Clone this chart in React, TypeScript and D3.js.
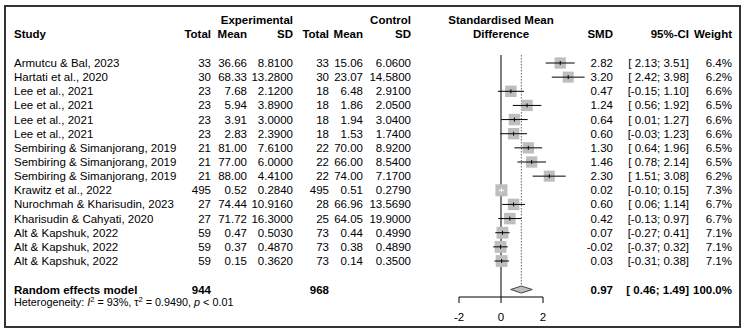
import { useRef, useEffect } from 'react';
import * as d3 from 'd3';

const studies = [
  'Armutcu & Bal, 2023', 'Hartati et al., 2020', 'Lee et al., 2021', 'Lee et al., 2021',
  'Lee et al., 2021', 'Lee et al., 2021', 'Sembiring & Simanjorang, 2019',
  'Sembiring & Simanjorang, 2019', 'Sembiring & Simanjorang, 2019', 'Krawitz et al., 2022',
  'Nurochmah & Kharisudin, 2023', 'Kharisudin & Cahyati, 2020', 'Alt & Kapshuk, 2022',
  'Alt & Kapshuk, 2022', 'Alt & Kapshuk, 2022'
];
const expTotal = [33, 30, 23, 23, 23, 23, 21, 21, 21, 495, 27, 27, 59, 59, 59];
const expMean = ['36.66', '68.33', '7.68', '5.94', '3.91', '2.83', '81.00', '77.00', '88.00', '0.52', '74.44', '71.72', '0.47', '0.37', '0.15'];
const expSD = ['8.8100', '13.2800', '2.1200', '3.8900', '3.0000', '2.3900', '7.6100', '6.0000', '4.4100', '0.2840', '10.9160', '16.3000', '0.5030', '0.4870', '0.3620'];
const ctlTotal = [33, 30, 18, 18, 18, 18, 22, 22, 22, 495, 28, 25, 73, 73, 73];
const ctlMean = ['15.06', '23.07', '6.48', '1.86', '1.94', '1.53', '70.00', '66.00', '74.00', '0.51', '66.96', '64.05', '0.44', '0.38', '0.14'];
const ctlSD = ['6.0600', '14.5800', '2.9100', '2.0500', '3.0400', '1.7400', '8.9200', '8.5400', '7.1700', '0.2790', '13.5690', '19.9000', '0.4990', '0.4890', '0.3500'];
const smd = [2.82, 3.20, 0.47, 1.24, 0.64, 0.60, 1.30, 1.46, 2.30, 0.02, 0.60, 0.42, 0.07, -0.02, 0.03];
const lower = [2.13, 2.42, -0.15, 0.56, 0.01, -0.03, 0.64, 0.78, 1.51, -0.10, 0.06, -0.13, -0.27, -0.37, -0.31];
const upper = [3.51, 3.98, 1.10, 1.92, 1.27, 1.23, 1.96, 2.14, 3.08, 0.15, 1.14, 0.97, 0.41, 0.32, 0.38];
const weight = [6.4, 6.2, 6.6, 6.5, 6.6, 6.6, 6.5, 6.5, 6.2, 7.3, 6.7, 6.7, 7.1, 7.1, 7.1];
const pooled = { n1: 944, n2: 968, est: 0.97, lo: 0.46, hi: 1.49, w: '100.0%' };
const axisTicks = [-2, 0, 2];

const fmt = (v: number) => (v < 0 ? '' : ' ') + v.toFixed(2);

export default function App() {
  const ref = useRef<SVGSVGElement>(null);

  useEffect(() => {
    const w = 747, h = 333;
    const svg = d3.select(ref.current)
      .attr('width', w).attr('height', h)
      .style('font-family', 'Arial, "Liberation Sans", sans-serif')
      .style('font-size', '11.5px');
    svg.selectAll('*').remove();

    svg.append('rect').attr('width', w).attr('height', h).attr('fill', '#fff');
    svg.append('rect')
      .attr('x', 5).attr('y', 6).attr('width', 735).attr('height', 321)
      .attr('fill', 'none').attr('stroke', '#333').attr('stroke-width', 2);

    const x = d3.scaleLinear().domain([-2, 2]).range([459, 543]);
    const y = d3.scaleLinear().domain([0, studies.length - 1]).range([63, 261]);
    const yRE = 289.5, yAxis = 297, yTop = 55;

    const txt = (tx: number, ty: number, s: string, anchor = 'end', bold = false) =>
      svg.append('text')
        .attr('x', tx).attr('y', ty)
        .attr('dy', '0.35em')
        .attr('text-anchor', anchor)
        .attr('font-weight', bold ? 'bold' : null)
        .attr('fill', '#000')
        .style('white-space', 'pre')
        .text(s);

    // headers
    txt(293, 20, 'Experimental', 'end', true);
    txt(411, 20, 'Control', 'end', true);
    txt(501, 20, 'Standardised Mean', 'middle', true);
    txt(14, 34, 'Study', 'start', true);
    txt(211, 34, 'Total', 'end', true);
    txt(247, 34, 'Mean', 'end', true);
    txt(293, 34, 'SD', 'end', true);
    txt(329, 34, 'Total', 'end', true);
    txt(363, 34, 'Mean', 'end', true);
    txt(411, 34, 'SD', 'end', true);
    txt(501, 34, 'Difference', 'middle', true);
    txt(613, 34, 'SMD', 'end', true);
    txt(689, 34, '95%-CI', 'end', true);
    txt(732, 34, 'Weight', 'end', true);

    // reference lines
    svg.append('line')
      .attr('x1', x(0)).attr('x2', x(0)).attr('y1', yTop).attr('y2', yAxis)
      .attr('stroke', '#000').attr('stroke-width', 1);
    svg.append('line')
      .attr('x1', x(pooled.est)).attr('x2', x(pooled.est)).attr('y1', yTop).attr('y2', yRE - 3.5)
      .attr('stroke', '#666').attr('stroke-width', 1).attr('stroke-dasharray', '1.5,1.5');

    studies.forEach((s, i) => {
      const yy = y(i);
      txt(14, yy, s, 'start');
      txt(211, yy, String(expTotal[i]));
      txt(247, yy, expMean[i]);
      txt(293, yy, expSD[i]);
      txt(329, yy, String(ctlTotal[i]));
      txt(363, yy, ctlMean[i]);
      txt(411, yy, ctlSD[i]);
      txt(613, yy, smd[i].toFixed(2));
      txt(689, yy, `[${fmt(lower[i])};${fmt(upper[i])}]`);
      txt(732, yy, weight[i].toFixed(1) + '%');

      const side = 12 * Math.sqrt(weight[i] / 7.3);
      svg.append('rect')
        .attr('x', x(smd[i]) - side / 2).attr('y', yy - side / 2)
        .attr('width', side).attr('height', side)
        .attr('fill', '#bebebe');
      const inside = x(upper[i]) - x(lower[i]) < side;
      const col = inside ? '#fff' : '#000';
      svg.append('line')
        .attr('x1', x(lower[i])).attr('x2', x(upper[i])).attr('y1', yy).attr('y2', yy)
        .attr('stroke', col).attr('stroke-width', 1);
      svg.append('line')
        .attr('x1', x(smd[i])).attr('x2', x(smd[i])).attr('y1', yy - 2).attr('y2', yy + 2)
        .attr('stroke', col).attr('stroke-width', 1);
    });

    // pooled
    txt(14, yRE, 'Random effects model', 'start', true);
    txt(211, yRE, String(pooled.n1), 'end', true);
    txt(329, yRE, String(pooled.n2), 'end', true);
    txt(613, yRE, pooled.est.toFixed(2), 'end', true);
    txt(689, yRE, `[${fmt(pooled.lo)};${fmt(pooled.hi)}]`, 'end', true);
    txt(732, yRE, pooled.w, 'end', true);
    svg.append('path')
      .attr('d', `M${x(pooled.lo)},${yRE} L${x(pooled.est)},${yRE - 3.5} L${x(pooled.hi)},${yRE} L${x(pooled.est)},${yRE + 3.5} Z`)
      .attr('fill', '#bebebe').attr('stroke', '#444').attr('stroke-width', 1);

    const het = svg.append('text')
      .attr('x', 14).attr('y', 302).attr('dy', '0.35em')
      .style('font-size', '10.8px').attr('fill', '#000');
    het.append('tspan').text('Heterogeneity: ');
    het.append('tspan').attr('font-style', 'italic').text('I');
    het.append('tspan').attr('dy', '-4').style('font-size', '7.5px').text('2');
    het.append('tspan').attr('dy', '4').text(' = 93%, τ');
    het.append('tspan').attr('dy', '-4').style('font-size', '7.5px').text('2');
    het.append('tspan').attr('dy', '4').text(' = 0.9490, ');
    het.append('tspan').attr('font-style', 'italic').text('p');
    het.append('tspan').text(' < 0.01');

    // axis
    svg.append('line')
      .attr('x1', x(-2)).attr('x2', x(2)).attr('y1', yAxis).attr('y2', yAxis)
      .attr('stroke', '#000');
    axisTicks.forEach(t => {
      svg.append('line')
        .attr('x1', x(t)).attr('x2', x(t)).attr('y1', yAxis).attr('y2', yAxis + 6)
        .attr('stroke', '#000');
      txt(x(t), 317, String(t), 'middle');
    });
  }, []);

  return <svg ref={ref} style={{ position: 'absolute', left: 0, top: 0 }}></svg>;
}
